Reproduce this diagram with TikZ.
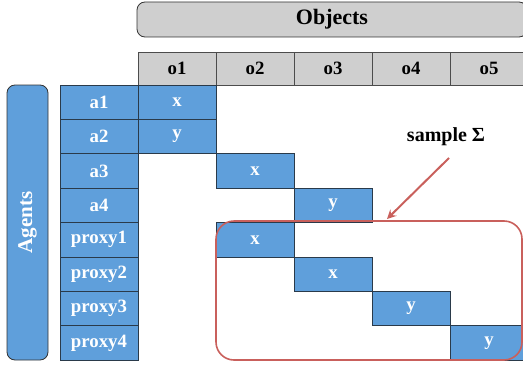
\documentclass[tikz,border=0pt]{standalone}
\usepackage{fontspec}
\setmainfont{Liberation Serif}
\definecolor{cellblue}{HTML}{5F9FDB}
\definecolor{headgray}{HTML}{CFCFCF}
\definecolor{samplered}{HTML}{C9605C}
\definecolor{edgedark}{HTML}{2A3A4A}
\begin{document}
\begin{tikzpicture}[
    x=0.5pt, y=-0.5pt,
    cell/.style={rectangle, draw=edgedark, fill=cellblue, text=white, minimum width=39pt, minimum height=17.2pt, inner sep=0pt, font=\fontsize{9.4}{10}\selectfont\bfseries},
    head/.style={rectangle, draw=black!70, fill=headgray, minimum width=39pt, minimum height=16.5pt, inner sep=0pt, font=\fontsize{9.4}{10}\selectfont\bfseries},
    title/.style={rectangle, rounded corners=4pt, draw=black!80, inner sep=0pt, font=\fontsize{11}{12}\selectfont\bfseries},
    arrow/.style={->, >=stealth, line width=1pt, samplered}
]
    \useasboundingbox (0,0) rectangle (523,369);

    % titles
    \node[title, fill=headgray, minimum width=195pt, minimum height=17.5pt] (objects) at (332,19.5) {Objects};
    \node[title, fill=cellblue, text=white, minimum width=20.5pt, minimum height=137.5pt] (agents) at (27.5,222.5) {};
    \node[text=white, font=\fontsize{10.5}{12}\selectfont\bfseries, rotate=90] (agentslbl) at (27.5,222.5) {Agents};

    % object columns
    \node[head] (o1) at (177,68.5) {o1};
    \node[head] (o2) at (255,68.5) {o2};
    \node[head] (o3) at (333,68.5) {o3};
    \node[head] (o4) at (411,68.5) {o4};
    \node[head] (o5) at (489,68.5) {o5};

    % agent rows
    \node[cell] (a1) at (99,102.2) {a1};
    \node[cell] (a2) at (99,136.6) {a2};
    \node[cell] (a3) at (99,171.0) {a3};
    \node[cell] (a4) at (99,205.4) {a4};
    \node[cell] (proxy1) at (99,239.8) {proxy1};
    \node[cell] (proxy2) at (99,274.2) {proxy2};
    \node[cell] (proxy3) at (99,308.6) {proxy3};
    \node[cell] (proxy4) at (99,343.0) {proxy4};

    % entries
    \node[cell] (a1o1) at (177,102.2) {x};
    \node[cell] (a2o1) at (177,136.6) {y};
    \node[cell] (a3o2) at (255,171.0) {x};
    \node[cell] (a4o3) at (333,205.4) {y};
    \node[cell] (p1o2) at (255,239.8) {x};
    \node[cell] (p2o3) at (333,274.2) {x};
    \node[cell] (p3o4) at (411,308.6) {y};
    \node[cell] (p4o5) at (489,343.0) {y};

    % sample
    \node[rectangle, rounded corners=9pt, draw=samplered, line width=0.8pt, minimum width=153pt, minimum height=69.5pt, inner sep=0pt] (sample) at (369,290.5) {};
    \node[font=\fontsize{10}{12}\selectfont\bfseries] (samplelbl) at (446,137) {sample Σ};
    \coordinate (tail) at (449,158);
    \coordinate (tip) at (387,219);
    \draw[arrow] (tail) -- (tip);
\end{tikzpicture}
\end{document}
